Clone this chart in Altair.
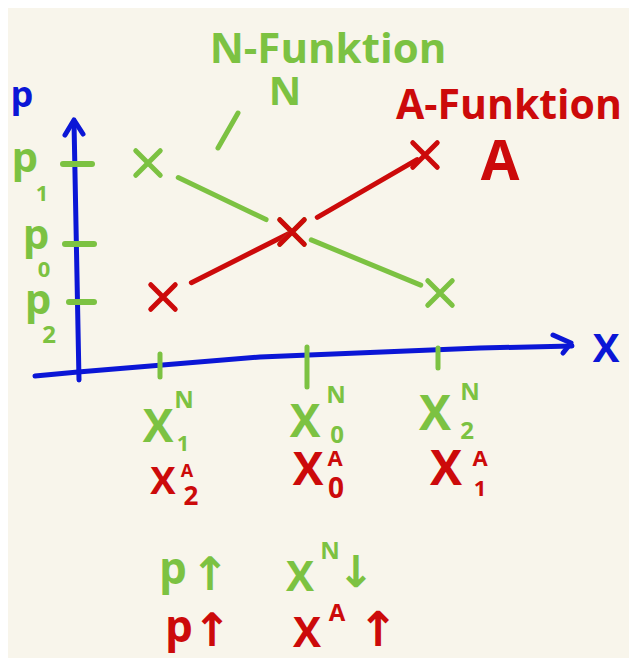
import altair as alt
import pandas as pd

GREEN = "#7CC242"
RED = "#CC0A0A"
BLUE = "#0B16D6"
BG = "#F8F5EB"
FONT = "Open Sans"

# ---- data (units: quantity X, price p) ----
# N-Funktion (demand) points
n_x = [1.75, 5.35, 9.05]
n_p = [5.225, 3.5, 1.975]
# A-Funktion (supply) points
a_x = [2.125, 5.35, 8.675]
a_p = [1.875, 3.5, 5.425]

# tick values on the axes
p_ticks = [5.2, 3.2, 1.75]
p_tick_subs = ["1", "0", "2"]
x_ticks = [2.05, 5.725, 9.0]

# hand drawn axis lines
y_axis_x = [0.025, -0.1]
y_axis_y = [-0.2, 6.25]
x_axis_x = [-1.075, 0.0, 4.55, 10.05, 12.35]
x_axis_y = [-0.1, 0.0, 0.375, 0.6, 0.65]

xs = alt.Scale(domain=[-1.75, 13.775], nice=False, zero=False)
ys = alt.Scale(domain=[-7.15, 9.1], nice=False, zero=False)


def X(f="x"):
    return alt.X(f"{f}:Q", scale=xs, axis=None)


def Y(f="y"):
    return alt.Y(f"{f}:Q", scale=ys, axis=None)


# ---- line segments with small gaps near the markers ----
def segments(px, py, gaps, color):
    rows = []
    for i, (g0, g1) in enumerate(gaps):
        x0, y0, x1, y1 = px[i], py[i], px[i + 1], py[i + 1]
        rows.append(dict(x=x0 + g0 * (x1 - x0), y=y0 + g0 * (y1 - y0),
                         x2=x0 + g1 * (x1 - x0), y2=y0 + g1 * (y1 - y0), c=color))
    return rows


seg_df = pd.DataFrame(
    segments(n_x, n_p, [(0.21, 0.82), (0.13, 0.87)], GREEN)
    + segments(a_x, a_p, [(0.22, 1.0), (0.19, 0.94)], RED)
)
segs = alt.Chart(seg_df).mark_rule(strokeWidth=5, strokeCap="round").encode(
    x=X(), y=Y(), x2="x2:Q", y2="y2:Q", color=alt.Color("c:N", scale=None)
)

# markers
pts_df = pd.DataFrame(
    [dict(x=x, y=y, c=GREEN) for x, y in zip(n_x, n_p)]
    + [dict(x=x, y=y, c=RED) for x, y in zip(a_x, a_p)]
)
XSHAPE = "M-1,-1L1,1M-1,1L1,-1"
marks = alt.Chart(pts_df).mark_point(
    shape=XSHAPE, filled=False, size=600, strokeWidth=5, strokeCap="round", opacity=1
).encode(x=X(), y=Y(), color=alt.Color("c:N", scale=None))

# ---- axes ----
yax_df = pd.DataFrame(dict(x=y_axis_x, y=y_axis_y, o=[0, 1]))
xax_df = pd.DataFrame(dict(x=x_axis_x, y=x_axis_y, o=list(range(len(x_axis_x)))))
axis_lines = alt.layer(
    alt.Chart(yax_df).mark_line(strokeWidth=5, color=BLUE, strokeCap="round").encode(
        x=X(), y=Y(), order="o:Q"),
    alt.Chart(xax_df).mark_line(strokeWidth=5, color=BLUE, strokeCap="round").encode(
        x=X(), y=Y(), order="o:Q"),
)
arrow_df = pd.DataFrame(dict(
    x=[-0.325, -0.1, 0.125, 11.875, 12.325, 12.125],
    y=[5.925, 6.3, 5.95, 0.925, 0.725, 0.475],
    g=["y", "y", "y", "x", "x", "x"],
    o=[0, 1, 2, 0, 1, 2],
))
arrows = alt.Chart(arrow_df).mark_line(
    strokeWidth=5, color=BLUE, strokeCap="round", strokeJoin="round"
).encode(x=X(), y=Y(), detail="g:N", order="o:Q")

# tick marks (green)
ytick_df = pd.DataFrame(dict(
    x=[-0.375, -0.325, -0.225], x2=[0.35, 0.4, 0.4], y=p_ticks))
ytick = alt.Chart(ytick_df).mark_rule(strokeWidth=6, color=GREEN, strokeCap="round").encode(
    x=X(), x2="x2:Q", y=Y())
xtick_df = pd.DataFrame(dict(
    x=x_ticks, y=[-0.125, -0.375, 0.1], y2=[0.45, 0.625, 0.6]))
xtick = alt.Chart(xtick_df).mark_rule(strokeWidth=5, color=GREEN, strokeCap="round").encode(
    x=X(), y=Y(), y2="y2:Q")

# connector stroke from "N" label to the demand curve
conn_df = pd.DataFrame(dict(x=[3.5], y=[5.6], x2=[4.0], y2=[6.475]))
conn = alt.Chart(conn_df).mark_rule(strokeWidth=5, color=GREEN, strokeCap="round").encode(
    x=X(), y=Y(), x2="x2:Q", y2="y2:Q")

# ---- text ----
texts = [
    # text, x, y, fontsize, colour
    ("p", -1.4, 6.9, 36, BLUE),
    ("X", 13.2, 0.55, 40, BLUE),
    ("N-Funktion", 6.25, 8.05, 42, GREEN),
    ("N", 5.175, 6.98, 40, GREEN),
    ("A", 10.55, 5.225, 56, RED),
    # price tick labels
    ("p", -1.33, 5.32, 42, GREEN), (p_tick_subs[0], -0.9, 4.45, 22, GREEN),
    ("p", -1.05, 3.395, 42, GREEN), (p_tick_subs[1], -0.85, 2.55, 22, GREEN),
    ("p", -1.0, 1.77, 42, GREEN), (p_tick_subs[2], -0.72, 0.9, 24, GREEN),
    # quantity labels (N)
    ("X", 2.0, -1.4, 46, GREEN), ("N", 2.65, -0.725, 24, GREEN), ("1", 2.625, -1.8, 22, GREEN),
    ("X", 5.675, -1.275, 46, GREEN), ("N", 6.45, -0.6, 24, GREEN), ("0", 6.475, -1.6, 24, GREEN),
    ("X", 8.925, -1.1, 48, GREEN), ("N", 9.8, -0.525, 24, GREEN), ("2", 9.725, -1.5, 24, GREEN),
    # quantity labels (A)
    ("X", 2.125, -2.775, 38, RED), ("A", 2.725, -2.5, 18, RED), ("2", 2.825, -3.125, 26, RED),
    ("X", 5.75, -2.475, 46, RED), ("A", 6.425, -2.175, 22, RED), ("0", 6.45, -2.95, 28, RED),
    ("X", 9.2, -2.475, 48, RED), ("A", 10.05, -2.175, 22, RED), ("1", 10.05, -2.925, 22, RED),
    # bottom notes
    ("p", 2.375, -4.98, 44, GREEN),
    ("X", 5.55, -5.15, 42, GREEN), ("N", 6.3, -4.5, 24, GREEN),
    ("p", 2.525, -6.42, 44, RED),
    ("X", 5.725, -6.55, 42, RED), ("A", 6.475, -6.05, 24, RED),
]
txt_df = pd.DataFrame(texts, columns=["t", "x", "y", "fs", "c"])
txt = alt.Chart(txt_df).mark_text(
    font=FONT, fontWeight="bold", baseline="middle", align="center"
).encode(
    x=X(), y=Y(), text="t:N",
    size=alt.Size("fs:Q", scale=None),
    color=alt.Color("c:N", scale=None),
)

arrow_txt_df = pd.DataFrame([
    ("↑", 3.3, -5.1, 46, GREEN), ("↓", 6.95, -5.05, 44, GREEN),
    ("↑", 3.35, -6.5, 46, RED), ("↑", 7.5, -6.5, 48, RED),
], columns=["t", "x", "y", "fs", "c"])
arrow_txt = alt.Chart(arrow_txt_df).mark_text(
    font="DejaVu Sans", fontWeight="bold", baseline="middle", align="center"
).encode(
    x=X(), y=Y(), text="t:N",
    size=alt.Size("fs:Q", scale=None),
    color=alt.Color("c:N", scale=None),
)

left_df = pd.DataFrame([("A-Funktion", 7.95, 6.625, 41, RED)], columns=["t", "x", "y", "fs", "c"])
left_txt = alt.Chart(left_df).mark_text(
    font=FONT, fontWeight="bold", baseline="middle", align="left"
).encode(
    x=X(), y=Y(), text="t:N",
    size=alt.Size("fs:Q", scale=None),
    color=alt.Color("c:N", scale=None),
)

chart = alt.layer(
    axis_lines, arrows, ytick, xtick, conn, segs, marks, txt, arrow_txt, left_txt
).properties(
    width=621, height=650, background=BG, padding=0, autosize="none"
).configure_view(stroke=None)

chart.save("out.html", embed_options={"renderer": "svg", "actions": False})
